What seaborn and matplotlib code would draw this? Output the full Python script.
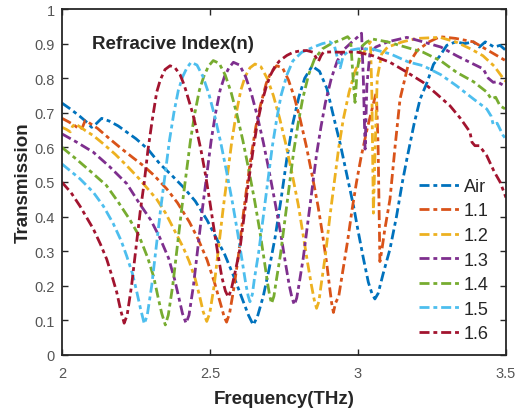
import matplotlib
matplotlib.use("Agg")
import matplotlib.pyplot as plt
import pandas as pd
import seaborn as sns

# Transmission spectra for a slab filled with media of different refractive index
labels = ["Air", "1.1", "1.2", "1.3", "1.4", "1.5", "1.6"]
colors = ["#0072BD", "#D95319", "#EDB120", "#7E2F8E", "#77AC30", "#4DBEEE", "#A2142F"]

freq_air = [2.0, 2.03, 2.06, 2.085, 2.1, 2.115, 2.134, 2.16, 2.19, 2.219,
            2.25, 2.29, 2.331, 2.37, 2.41, 2.45, 2.49, 2.52, 2.55, 2.58,
            2.61, 2.63, 2.646, 2.66, 2.68, 2.7, 2.72, 2.74, 2.76, 2.78,
            2.8, 2.82, 2.845, 2.87, 2.895, 2.92, 2.94, 2.96, 2.985, 3.0,
            3.018, 3.035, 3.047, 3.057, 3.068, 3.085, 3.108, 3.13, 3.15, 3.165,
            3.19, 3.21, 3.232, 3.255, 3.277, 3.3, 3.33, 3.36, 3.39, 3.41,
            3.43, 3.46, 3.48, 3.5]
trans_air = [0.728, 0.71, 0.69, 0.672, 0.658, 0.668, 0.684, 0.676, 0.662, 0.644,
             0.625, 0.595, 0.552, 0.52, 0.485, 0.445, 0.39, 0.34, 0.29, 0.228,
             0.16, 0.115, 0.087, 0.11, 0.17, 0.25, 0.34, 0.45, 0.57, 0.67,
             0.745, 0.80, 0.835, 0.82, 0.77, 0.68, 0.61, 0.53, 0.43, 0.36,
             0.28, 0.21, 0.178, 0.162, 0.178, 0.235, 0.306, 0.40, 0.50, 0.566,
             0.67, 0.74, 0.785, 0.84, 0.865, 0.895, 0.905, 0.9, 0.905, 0.89,
             0.905, 0.89, 0.895, 0.88]

freq_11 = [2.0, 2.02, 2.04, 2.06, 2.07, 2.078, 2.09, 2.12, 2.162, 2.2,
           2.24, 2.275, 2.31, 2.354, 2.39, 2.43, 2.46, 2.49, 2.515, 2.535,
           2.548, 2.556, 2.566, 2.58, 2.595, 2.61, 2.625, 2.64, 2.655, 2.67,
           2.69, 2.705, 2.725, 2.745, 2.765, 2.785, 2.805, 2.825, 2.845, 2.865,
           2.88, 2.895, 2.905, 2.911, 2.917, 2.924, 2.935, 2.95, 2.965, 2.98,
           2.995, 3.01, 3.03, 3.05, 3.062, 3.068, 3.074, 3.08, 3.09, 3.108,
           3.125, 3.142, 3.17, 3.2, 3.24, 3.277, 3.33, 3.39, 3.44, 3.49,
           3.5]
trans_11 = [0.684, 0.675, 0.665, 0.652, 0.66, 0.677, 0.672, 0.655, 0.624, 0.597,
            0.57, 0.547, 0.52, 0.48, 0.44, 0.385, 0.335, 0.275, 0.21, 0.15,
            0.11, 0.095, 0.12, 0.19, 0.28, 0.39, 0.49, 0.58, 0.66, 0.72,
            0.785, 0.815, 0.836, 0.83, 0.795, 0.745, 0.68, 0.605, 0.52, 0.43,
            0.35, 0.26, 0.19, 0.15, 0.123, 0.15, 0.17, 0.25, 0.33, 0.42,
            0.5, 0.57, 0.65, 0.72, 0.76, 0.6, 0.27, 0.3, 0.36, 0.45,
            0.6, 0.74, 0.84, 0.88, 0.905, 0.92, 0.915, 0.905, 0.88, 0.855,
            0.85]

freq_12 = [2.0, 2.015, 2.028, 2.035, 2.044, 2.06, 2.08, 2.106, 2.14, 2.18,
           2.219, 2.26, 2.29, 2.32, 2.35, 2.38, 2.41, 2.43, 2.45, 2.465,
           2.477, 2.489, 2.499, 2.514, 2.529, 2.544, 2.559, 2.574, 2.589, 2.604,
           2.619, 2.635, 2.652, 2.672, 2.693, 2.714, 2.735, 2.756, 2.777, 2.798,
           2.815, 2.83, 2.843, 2.852, 2.86, 2.868, 2.875, 2.89, 2.905, 2.92,
           2.935, 2.95, 2.97, 2.99, 3.01, 3.03, 3.042, 3.047, 3.052, 3.058,
           3.065, 3.08, 3.1, 3.15, 3.2, 3.277, 3.33, 3.38, 3.422, 3.46,
           3.49, 3.5]
trans_12 = [0.658, 0.652, 0.645, 0.66, 0.668, 0.66, 0.648, 0.634, 0.61, 0.58,
            0.547, 0.51, 0.48, 0.45, 0.41, 0.36, 0.31, 0.27, 0.22, 0.17,
            0.125, 0.097, 0.12, 0.2, 0.31, 0.42, 0.52, 0.62, 0.70, 0.765,
            0.805, 0.83, 0.841, 0.833, 0.8, 0.75, 0.685, 0.61, 0.525, 0.435,
            0.345, 0.265, 0.2, 0.16, 0.135, 0.155, 0.2, 0.29, 0.4, 0.5,
            0.6, 0.68, 0.76, 0.82, 0.86, 0.89, 0.905, 0.75, 0.41, 0.6,
            0.8, 0.87, 0.89, 0.905, 0.915, 0.918, 0.905, 0.885, 0.865, 0.835,
            0.8, 0.79]

freq_13 = [2.0, 2.05, 2.106, 2.16, 2.219, 2.26, 2.3, 2.33, 2.36, 2.38,
           2.395, 2.407, 2.419, 2.429, 2.444, 2.459, 2.474, 2.489, 2.504, 2.519,
           2.534, 2.549, 2.564, 2.579, 2.6, 2.62, 2.64, 2.66, 2.68, 2.7,
           2.72, 2.74, 2.755, 2.768, 2.777, 2.785, 2.793, 2.8, 2.815, 2.83,
           2.845, 2.86, 2.875, 2.89, 2.91, 2.93, 2.955, 2.98, 3.0, 3.012,
           3.018, 3.024, 3.03, 3.04, 3.06, 3.1, 3.165, 3.22, 3.28, 3.333,
           3.38, 3.423, 3.44, 3.457, 3.47, 3.49, 3.5]
trans_13 = [0.639, 0.615, 0.586, 0.545, 0.495, 0.44, 0.39, 0.34, 0.28, 0.22,
            0.165, 0.12, 0.092, 0.115, 0.2, 0.31, 0.42, 0.52, 0.62, 0.70,
            0.765, 0.805, 0.83, 0.846, 0.838, 0.805, 0.755, 0.69, 0.615, 0.53,
            0.44, 0.345, 0.265, 0.2, 0.165, 0.145, 0.165, 0.2, 0.28, 0.38,
            0.48, 0.58, 0.66, 0.73, 0.8, 0.85, 0.885, 0.905, 0.92, 0.93,
            0.8, 0.595, 0.78, 0.87, 0.89, 0.905, 0.918, 0.905, 0.89, 0.865,
            0.845, 0.827, 0.8, 0.788, 0.79, 0.78, 0.775]

freq_14 = [2.0, 2.05, 2.1, 2.15, 2.19, 2.23, 2.26, 2.29, 2.31, 2.325,
           2.337, 2.349, 2.359, 2.374, 2.389, 2.404, 2.419, 2.434, 2.449, 2.464,
           2.479, 2.495, 2.511, 2.531, 2.551, 2.571, 2.591, 2.611, 2.631, 2.651,
           2.668, 2.683, 2.695, 2.702, 2.708, 2.716, 2.723, 2.738, 2.753, 2.768,
           2.783, 2.798, 2.813, 2.833, 2.853, 2.88, 2.91, 2.94, 2.965, 2.975,
           2.985, 2.99, 2.997, 3.01, 3.03, 3.05, 3.1, 3.16, 3.22, 3.28,
           3.333, 3.39, 3.435, 3.45, 3.465, 3.48, 3.5]
trans_14 = [0.600, 0.565, 0.528, 0.49, 0.442, 0.39, 0.345, 0.28, 0.225, 0.165,
            0.12, 0.087, 0.115, 0.2, 0.31, 0.42, 0.52, 0.62, 0.70, 0.765,
            0.805, 0.835, 0.851, 0.843, 0.81, 0.76, 0.695, 0.62, 0.535, 0.445,
            0.36, 0.275, 0.205, 0.17, 0.149, 0.17, 0.21, 0.29, 0.39, 0.49,
            0.59, 0.67, 0.74, 0.81, 0.855, 0.885, 0.9, 0.91, 0.92, 0.91,
            0.78, 0.73, 0.82, 0.89, 0.905, 0.913, 0.905, 0.89, 0.875, 0.85,
            0.817, 0.79, 0.76, 0.74, 0.745, 0.72, 0.71]

freq_15 = [2.0, 2.061, 2.106, 2.14, 2.173, 2.2, 2.219, 2.238, 2.252, 2.265,
           2.278, 2.288, 2.303, 2.318, 2.333, 2.348, 2.363, 2.378, 2.393, 2.408,
           2.422, 2.436, 2.456, 2.476, 2.496, 2.516, 2.536, 2.556, 2.576, 2.594,
           2.609, 2.621, 2.629, 2.635, 2.643, 2.65, 2.665, 2.68, 2.695, 2.71,
           2.725, 2.74, 2.76, 2.78, 2.81, 2.85, 2.88, 2.905, 2.92, 2.93,
           2.94, 2.95, 2.97, 3.0, 3.05, 3.11, 3.17, 3.22, 3.28, 3.333,
           3.39, 3.435, 3.45, 3.457, 3.47, 3.49, 3.5]
trans_15 = [0.552, 0.509, 0.47, 0.43, 0.38, 0.33, 0.285, 0.235, 0.185, 0.135,
            0.09, 0.115, 0.2, 0.31, 0.42, 0.52, 0.62, 0.70, 0.765, 0.805,
            0.83, 0.846, 0.838, 0.805, 0.755, 0.69, 0.615, 0.53, 0.44, 0.35,
            0.27, 0.205, 0.17, 0.154, 0.175, 0.22, 0.3, 0.4, 0.5, 0.6,
            0.68, 0.75, 0.81, 0.85, 0.875, 0.89, 0.9, 0.905, 0.895, 0.86,
            0.83, 0.865, 0.88, 0.885, 0.884, 0.87, 0.847, 0.836, 0.81, 0.778,
            0.74, 0.711, 0.69, 0.665, 0.67, 0.635, 0.624]

freq_16 = [2.0, 2.03, 2.061, 2.106, 2.13, 2.151, 2.17, 2.185, 2.198, 2.21,
           2.22, 2.235, 2.25, 2.264, 2.278, 2.29, 2.305, 2.32, 2.332, 2.348,
           2.365, 2.382, 2.399, 2.413, 2.427, 2.441, 2.455, 2.47, 2.485, 2.5,
           2.515, 2.528, 2.54, 2.552, 2.562, 2.572, 2.585, 2.601, 2.615, 2.63,
           2.646, 2.66, 2.675, 2.69, 2.703, 2.72, 2.736, 2.76, 2.781, 2.805,
           2.827, 2.848, 2.858, 2.866, 2.875, 2.883, 2.91, 2.939, 2.97, 3.0,
           3.05, 3.108, 3.16, 3.22, 3.265, 3.311, 3.345, 3.378, 3.385, 3.395,
           3.41, 3.435, 3.46, 3.48, 3.5]
trans_16 = [0.499, 0.47, 0.43, 0.364, 0.32, 0.277, 0.225, 0.181, 0.13, 0.092,
            0.115, 0.2, 0.31, 0.413, 0.5, 0.59, 0.68, 0.76, 0.795, 0.825,
            0.836, 0.83, 0.81, 0.78, 0.74, 0.7, 0.65, 0.59, 0.52, 0.44,
            0.355, 0.285, 0.225, 0.185, 0.167, 0.19, 0.24, 0.306, 0.4, 0.5,
            0.595, 0.67, 0.73, 0.775, 0.807, 0.835, 0.851, 0.866, 0.875, 0.879,
            0.88, 0.875, 0.86, 0.848, 0.865, 0.875, 0.876, 0.875, 0.876, 0.875,
            0.865, 0.846, 0.82, 0.788, 0.755, 0.72, 0.685, 0.645, 0.615, 0.605,
            0.605, 0.576, 0.53, 0.5, 0.455]

x_ticks = [2, 2.5, 3, 3.5]
x_tick_labels = ["2", "2.5", "3", "3.5"]
y_ticks = [0, 0.1, 0.2, 0.3, 0.4, 0.5, 0.6, 0.7, 0.8, 0.9, 1]
y_tick_labels = ["0", "0.1", "0.2", "0.3", "0.4", "0.5", "0.6", "0.7", "0.8", "0.9", "1"]

freqs = [freq_air, freq_11, freq_12, freq_13, freq_14, freq_15, freq_16]
trans = [trans_air, trans_11, trans_12, trans_13, trans_14, trans_15, trans_16]
df = pd.concat(
    [pd.DataFrame({"Frequency": f, "Transmission": t, "n": lab})
     for f, t, lab in zip(freqs, trans, labels)],
    ignore_index=True,
)

sns.set_style("ticks")
plt.rcParams["font.family"] = ["Liberation Sans", "DejaVu Sans"]

fig = plt.figure(figsize=(5.18, 4.10), dpi=100)
ax = fig.add_axes([62 / 518, 1 - 356 / 410, (506 - 62) / 518, (356 - 10) / 410])

sns.lineplot(data=df, x="Frequency", y="Transmission", hue="n", hue_order=labels,
             palette=colors, sort=False, estimator=None, lw=2.0, legend=False, ax=ax)

for line in ax.lines:
    line.set_linestyle((0, (3.6, 1.4, 1.4, 1.4)))

ax.set_xlim(2, 3.5)
ax.set_ylim(0, 1)
ax.set_xticks(x_ticks)
ax.set_xticklabels(x_tick_labels)
ax.set_yticks(y_ticks)
ax.set_yticklabels(y_tick_labels)
ax.tick_params(direction="in", top=True, right=True, length=4, width=1,
               labelsize=10.5, labelcolor="#555555", color="#262626")
ax.tick_params(axis="x", pad=8)
ax.tick_params(axis="y", pad=5)
for sp in ax.spines.values():
    sp.set_linewidth(1.3)
    sp.set_color("#262626")

ax.set_xlabel("Frequency(THz)", fontsize=13.5, fontweight="bold", labelpad=7)
ax.set_ylabel("Transmission", fontsize=13.5, fontweight="bold", labelpad=2)

ax.text(2.1, 0.899, "Refracive Index(n)", fontsize=13.5, fontweight="bold",
        va="center", ha="left")

ax.legend(ax.lines, labels, loc="lower right", bbox_to_anchor=(0.99, 0.0),
          frameon=False, fontsize=13, handlelength=2.2, handletextpad=0.28,
          labelspacing=0.42, borderaxespad=0.3)

fig.savefig("out.png", dpi=100)
